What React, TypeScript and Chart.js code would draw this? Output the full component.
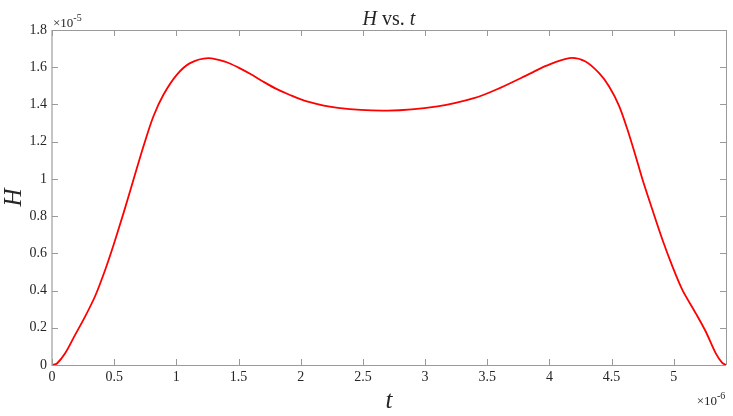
import React, { useEffect, useRef } from "react";
import { Chart, registerables } from "chart.js";

Chart.register(...registerables);

// time values (units of 1e-6)
const tValues = [0, 0.04, 0.107, 0.187, 0.267, 0.348, 0.428, 0.495, 0.575, 0.655, 0.735, 0.815, 0.896, 1.003, 1.11, 1.257, 1.4, 1.5, 1.6, 1.7, 1.8, 1.9, 2.05, 2.3, 2.7, 3.1, 3.4, 3.6, 3.839, 3.972, 4.16, 4.29, 4.4, 4.48, 4.56, 4.63, 4.69, 4.748, 4.828, 4.909, 4.989, 5.069, 5.176, 5.257, 5.337, 5.39, 5.42];
// H values (units of 1e-5)
const hValues = [0, 0.008, 0.064, 0.163, 0.261, 0.372, 0.512, 0.645, 0.816, 0.995, 1.174, 1.335, 1.452, 1.559, 1.622, 1.649, 1.628, 1.598, 1.562, 1.522, 1.485, 1.455, 1.416, 1.381, 1.367, 1.39, 1.435, 1.488, 1.564, 1.607, 1.649, 1.631, 1.568, 1.496, 1.392, 1.26, 1.13, 0.998, 0.834, 0.673, 0.53, 0.404, 0.279, 0.18, 0.064, 0.011, 0];

const xTicks = [0, 0.5, 1, 1.5, 2, 2.5, 3, 3.5, 4, 4.5, 5];
const yTicks = [0, 0.2, 0.4, 0.6, 0.8, 1, 1.2, 1.4, 1.6, 1.8];
const xMax = 5.42;
const yMax = 1.8;

const SERIF = "'Liberation Serif', 'Times New Roman', serif";
const AXIS = "#9a9a9a";
const TEXT = "#262626";

const decorPlugin = {
  id: "decor",
  afterDraw(chart: any) {
    const { ctx, chartArea } = chart;
    const { left, right, top, bottom } = chartArea;
    const xs = chart.scales.x;
    const ys = chart.scales.y;
    ctx.save();
    // box
    ctx.strokeStyle = AXIS;
    ctx.lineWidth = 1;
    ctx.beginPath();
    ctx.moveTo(left, bottom + 0.5);
    ctx.lineTo(right, bottom + 0.5);
    ctx.moveTo(left, top + 0.5);
    ctx.lineTo(right, top + 0.5);
    ctx.moveTo(right + 0.5, top);
    ctx.lineTo(right + 0.5, bottom);
    ctx.stroke();
    ctx.strokeStyle = "#c4c4c4";
    ctx.lineWidth = 2;
    ctx.beginPath();
    ctx.moveTo(left, top);
    ctx.lineTo(left, bottom + 1);
    ctx.stroke();
    // ticks inward
    ctx.strokeStyle = AXIS;
    ctx.lineWidth = 1;
    const tl = 6;
    ctx.beginPath();
    xTicks.forEach((v) => {
      const px = Math.round(xs.getPixelForValue(v)) + 0.5;
      ctx.moveTo(px, bottom);
      ctx.lineTo(px, bottom - tl);
      ctx.moveTo(px, top);
      ctx.lineTo(px, top + tl);
    });
    yTicks.forEach((v) => {
      const py = Math.round(ys.getPixelForValue(v)) + 0.5;
      ctx.moveTo(left, py);
      ctx.lineTo(left + tl, py);
      ctx.moveTo(right, py);
      ctx.lineTo(right - tl, py);
    });
    ctx.stroke();
    // tick labels
    ctx.fillStyle = TEXT;
    ctx.font = `14px ${SERIF}`;
    ctx.textAlign = "center";
    ctx.textBaseline = "top";
    xTicks.forEach((v) => {
      ctx.fillText(String(v), xs.getPixelForValue(v), bottom + 5);
    });
    ctx.textAlign = "right";
    ctx.textBaseline = "middle";
    yTicks.forEach((v) => {
      ctx.fillText(String(v), left - 5, ys.getPixelForValue(v));
    });
    // exponents
    ctx.textAlign = "left";
    ctx.textBaseline = "alphabetic";
    ctx.font = `13px ${SERIF}`;
    ctx.fillText("\u00d710", left + 1, top - 3);
    let w = ctx.measureText("\u00d710").width;
    ctx.font = `10px ${SERIF}`;
    ctx.fillText("-5", left + 1 + w, top - 9);
    ctx.font = `13px ${SERIF}`;
    w = ctx.measureText("\u00d710").width;
    const ex = right - w - 9;
    ctx.fillText("\u00d710", ex, bottom + 40);
    ctx.font = `10px ${SERIF}`;
    ctx.fillText("-6", ex + w, bottom + 34);
    // title
    ctx.font = `italic 20px ${SERIF}`;
    const p1 = "H";
    const w1 = ctx.measureText(p1).width;
    ctx.font = `20px ${SERIF}`;
    const p2 = " vs. ";
    const w2 = ctx.measureText(p2).width;
    ctx.font = `italic 20px ${SERIF}`;
    const p3 = "t";
    const w3 = ctx.measureText(p3).width;
    const cx = (left + right) / 2;
    const sx = cx - (w1 + w2 + w3) / 2;
    const ty = 25;
    ctx.fillText(p1, sx, ty);
    ctx.font = `20px ${SERIF}`;
    ctx.fillText(p2, sx + w1, ty);
    ctx.font = `italic 20px ${SERIF}`;
    ctx.fillText(p3, sx + w1 + w2, ty);
    // x label
    ctx.font = `italic 25px ${SERIF}`;
    ctx.textAlign = "center";
    ctx.fillText("t", cx, 408);
    // y label
    ctx.save();
    ctx.translate(21, (top + bottom) / 2);
    ctx.rotate(-Math.PI / 2);
    ctx.fillText("H", 0, 0);
    ctx.restore();
    ctx.restore();
  },
};

export default function App() {
  const ref = useRef<HTMLCanvasElement | null>(null);
  useEffect(() => {
    document.body.style.margin = "0";
    const canvas = ref.current;
    if (!canvas) return;
    const chart = new Chart(canvas, {
      type: "line",
      data: {
        datasets: [
          {
            label: "H",
            data: tValues.map((t, i) => ({ x: t, y: hValues[i] })),
            borderColor: "#ff0000",
            borderWidth: 1.8,
            pointRadius: 0,
            tension: 0.3,
            fill: false,
          },
        ],
      },
      plugins: [decorPlugin],
      options: {
        animation: false,
        responsive: false,
        devicePixelRatio: 1,
        layout: { padding: { top: 30, right: 7, left: 0, bottom: 0 } },
        plugins: { legend: { display: false }, tooltip: { enabled: false }, title: { display: false } },
        scales: {
          x: {
            type: "linear",
            min: 0,
            max: xMax,
            grid: { display: false, drawTicks: false },
            border: { display: false },
            ticks: { display: false },
            afterFit: (s: any) => {
              s.height = 51;
            },
          },
          y: {
            type: "linear",
            min: 0,
            max: yMax,
            grid: { display: false, drawTicks: false },
            border: { display: false },
            ticks: { display: false },
            afterFit: (s: any) => {
              s.width = 52;
            },
          },
        },
      },
    } as any);
    return () => chart.destroy();
  }, []);
  return (
    <div style={{ width: 733, height: 416, background: "#fff" }}>
      <canvas ref={ref} width={733} height={416} />
    </div>
  );
}
